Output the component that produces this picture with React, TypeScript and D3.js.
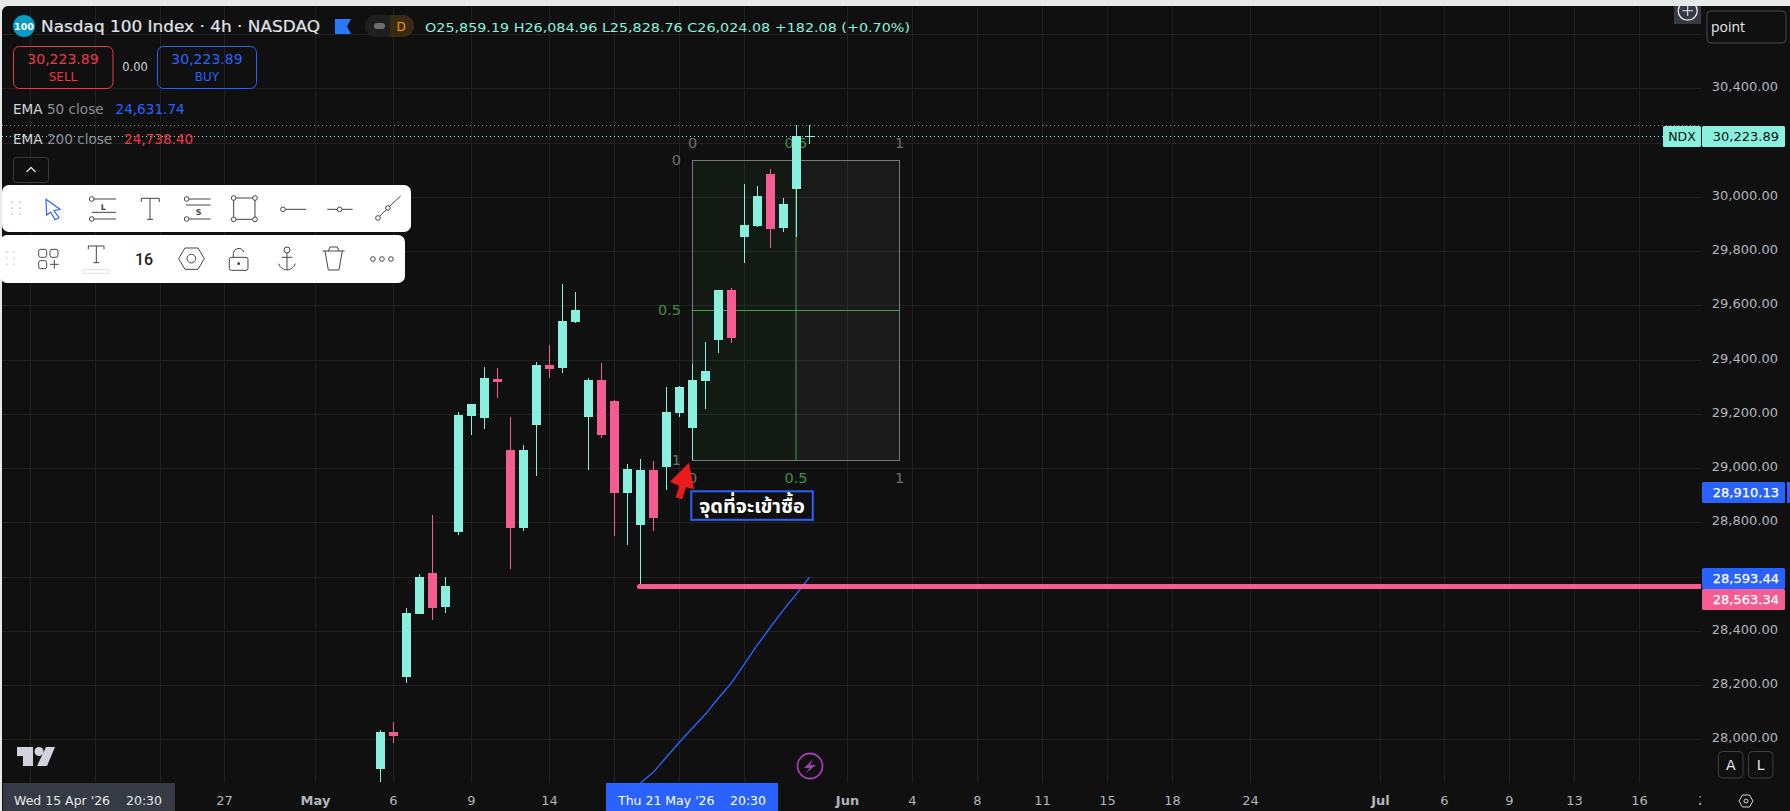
import React from "react";
import * as d3 from "d3";

const opens = [27890,28027,28230,28462,28613,28488,28764,29192,29185,29328,29067,28779,29159,29380,29369,29538,29188,29325,29247,28908,28790,28993,29004,29203,29148,29321,29472,29656,29852,29892,30084,29885,30029,30224];
const highs = [28034,28064,28483,28609,28827,28598,29207,29236,29373,29369,29188,29085,29391,29454,29679,29649,29332,29387,29251,29015,29033,29026,29299,29302,29384,29465,29656,29664,30047,30040,30102,29996,30265,30265];
const lows = [27843,27986,28208,28462,28440,28466,28753,29122,29144,29258,28628,28768,28971,29332,29350,29535,28993,29111,28749,28716,28569,28768,28919,29188,29030,29218,29424,29461,29756,29889,29811,29870,29852,30195];
const closes = [28027,28012,28466,28598,28484,28565,29196,29236,29332,29317,28779,29067,29380,29365,29542,29583,29325,29122,28908,28996,28993,28816,29207,29299,29325,29358,29656,29479,29896,30003,29881,29973,30224,30224];

const emaStartBar = 20;
const emaValues = [27839,27879,27935,27990,28042,28093,28152,28208,28278,28348,28414,28477,28536,28598];

const priceTicks = [30400,30200,30000,29800,29600,29400,29200,29000,28800,28600,28400,28200,28000];
const coveredPriceLabels = [30200];
const gridOnlyPrices = [30600];
const timeLabels: [number, string, boolean][] = [
  [30,"",false],[95,"",false],[160,"",false],[224,"27",false],[315,"May",true],[393,"6",false],[471,"9",false],[549,"14",false],[614,"",false],[679,"",false],[744,"",false],[847,"Jun",true],[912,"4",false],[977,"8",false],[1042,"11",false],[1107,"15",false],[1172,"18",false],[1250,"24",false],[1380,"Jul",true],[1444,"6",false],[1509,"9",false],[1574,"13",false],[1639,"16",false],[1702,"2",false],
];

const lastPrice = 30223.89;
const dottedHigh = 30265;
const supportPrice = 28563.34;
const fibLevels = [0, 0.5, 1];

const BG = "#101010";
const UP = "#89f0de";
const DOWN = "#f55c92";
const BLUE = "#2962ff";
const GRID = "#212121";
const AXIS = "#b2b5be";
const FONT = "'DejaVu Sans', sans-serif";

const W = 1790, H = 811, PLOT_R = 1701, AXIS_Y = 783;

const y = d3.scaleLinear().domain([28000, 30400]).range([739.3, 88.3]);
const x = d3.scaleLinear().domain([0, 33]).range([380.5, 809.5]);
const fibX = d3.scaleLinear().domain([0, 1]).range([692.5, 899.5]);
const fibY = d3.scaleLinear().domain([0, 1]).range([160.5, 460.5]);
const fmt = d3.format(",.2f");

const line = d3.line<number>().x((_, i) => x(i + emaStartBar)).y((d) => y(d));

function Candles() {
  return (
    <g>
      {opens.map((o, i) => {
        const c = closes[i];
        const col = c >= o ? UP : DOWN;
        const top = Math.round(y(Math.max(o, c)));
        const bot = Math.round(y(Math.min(o, c)));
        const doji = bot === top;
        return (
          <g key={i} fill={col}>
            <rect x={x(i) - 0.5} y={Math.round(y(highs[i]))} width={1} height={Math.round(y(lows[i])) - Math.round(y(highs[i]))} />
            {doji ? (
              <rect x={x(i) - 4.5} y={top} width={10} height={1} />
            ) : (
              <rect x={x(i) - 4.5} y={top} width={9} height={bot - top} />
            )}
          </g>
        );
      })}
    </g>
  );
}

function Tag({ y0, h, fill, text, color = "#fff", x0 = 1702, w = 83 }: any) {
  return (
    <g>
      <rect x={x0} y={y0} width={w} height={h} rx={1.5} fill={fill} />
      <text x={1779} y={y0 + h / 2 + 4.5} textAnchor="end" fontSize={13} fill={color} fontFamily={FONT} stroke={color === "#fff" ? "#fff" : "none"} strokeWidth={color === "#fff" ? 0.25 : 0}>{text}</text>
    </g>
  );
}

function Toolbars() {
  const st = { fill: "none", stroke: "#444", strokeWidth: 3 } as const;
  const gripA = [36, 60], gripAy = [97, 115, 133];
  const gripB = [20, 42], gripBy = [247, 265, 283];
  return (
    <g>
      <rect x={2} y={185} width={409} height={47} rx={7} fill="#fff" />
      <rect x={0} y={235} width={405} height={48} rx={7} fill="#fff" />
      <g transform="translate(0,170) scale(0.3333)">
        {gripA.map((a) => gripAy.map((b) => <circle key={a + "-" + b} cx={a} cy={b} r={3} fill="#ccc" />))}
        {gripB.map((a) => gripBy.map((b) => <circle key={a + "-" + b} cx={a} cy={b} r={3} fill="#d5d5d5" />))}
        <path d="M138,88 L180,118 L162,122 L177,143 L165,149 L152,126 L140,135 Z" fill="none" stroke={BLUE} strokeWidth={3.5} />
        <g {...st}>
          <circle cx={275} cy={87} r={7} /><path d="M282,87H348M275,127H348M282,147H348" /><circle cx={275} cy={147} r={7} />
          <path d="M424,96V85H478V96M450,85V148M441,148H459" />
          <circle cx={560} cy={87} r={7} /><path d="M567,87H632M558,105H632M567,147H632" /><circle cx={560} cy={147} r={7} />
          <rect x={701} y={84} width={64} height={64} />
          {[[701,84],[765,84],[701,148],[765,148]].map(([a,b]) => <circle key={a+"_"+b} cx={a} cy={b} r={7} fill="#fff" />)}
          <circle cx={849} cy={118} r={7} /><path d="M856,118H919" />
          <path d="M982,118H1012M1026,118H1058" /><circle cx={1019} cy={118} r={7} />
          <circle cx={1134} cy={144} r={7} /><circle cx={1164} cy={114} r={7} /><path d="M1139,139L1159,119M1169,109L1202,78" />
          <rect x={116} y={238} width={24} height={24} rx={6} /><rect x={150} y={238} width={24} height={24} rx={6} /><rect x={116} y={272} width={24} height={24} rx={6} /><path d="M150,283H176M163,270V296" />
          <path d="M265,238V228H312V238M289,228V278M280,278H298" />
          <rect x={248} y={299} width={80} height={11} rx={4} stroke="#ccc" strokeWidth={2} />
          <path d="M555,234H594L613,266L594,298H555L536,266Z" /><circle cx={574} cy={266} r={13} />
          <rect x={688} y={262} width={56} height={39} rx={6} /><path d="M700,262V250A16,16 0 0 1 731,246" />
          <circle cx={861} cy={240} r={9} /><path d="M861,249V300M845,262H877M836,281C840,293 852,300 861,300C870,300 882,293 886,281" />
          <path d="M968,243H1034M985,243L990,231H1012L1017,243M975,243L985,300H1017L1027,243" />
          <circle cx={1119} cy={267} r={7} /><circle cx={1146} cy={267} r={7} /><circle cx={1173} cy={267} r={7} />
        </g>
        <circle cx={716} cy={281} r={4} fill="#333" />
        <text x={310} y={120} fontSize={24} fontWeight={700} textAnchor="middle" fill="#444" fontFamily={FONT}>L</text>
        <text x={596} y={136} fontSize={24} fontWeight={700} textAnchor="middle" fill="#444" fontFamily={FONT}>S</text>
        <text x={432} y={285} fontSize={48} textAnchor="middle" fill="#222" fontFamily="Roboto, sans-serif" fontWeight={500}>16</text>
      </g>
    </g>
  );
}

export default function App() {
  const clipId = "plotclip";
  const headerY = 32;
  return (
    <>
      <style>{`html,body{margin:0;padding:0;overflow:hidden;background:#e9e9e9}`}</style>
      <svg width={W} height={H} style={{ position: "absolute", left: 0, top: 0, display: "block" }} fontFamily={FONT}>
        <defs>
          <clipPath id={clipId}><rect x={0} y={0} width={PLOT_R} height={AXIS_Y} /></clipPath>
          <clipPath id="timeclip"><rect x={0} y={AXIS_Y} width={PLOT_R} height={H - AXIS_Y} /></clipPath>
        </defs>
        <rect width={W} height={H} fill="#e9e9e9" />
        <rect x={2} y={6} width={W} height={H} rx={6} fill={BG} />

        {/* grid */}
        <g stroke={GRID}>
          {[...gridOnlyPrices, ...priceTicks].map((p) => (
            <line key={p} x1={2} x2={PLOT_R} y1={Math.round(y(p)) + 0.5} y2={Math.round(y(p)) + 0.5} />
          ))}
          {timeLabels.filter(([px]) => px < PLOT_R).map(([px]) => <line key={px} x1={px + 0.5} x2={px + 0.5} y1={6} y2={AXIS_Y} />)}
        </g>

        {/* fib box */}
        <g>
          <rect x={fibX(0)} y={fibY(0)} width={fibX(0.5) - fibX(0)} height={fibY(1) - fibY(0)} fill="#4caf50" fillOpacity={0.07} />
          <rect x={fibX(0.5)} y={fibY(0)} width={fibX(1) - fibX(0.5)} height={fibY(1) - fibY(0)} fill="#ffffff" fillOpacity={0.045} />
          <rect x={fibX(0)} y={fibY(0)} width={fibX(1) - fibX(0)} height={fibY(1) - fibY(0)} fill="none" stroke="#787878" />
          <line x1={fibX(0.5)} x2={fibX(0.5)} y1={fibY(0)} y2={fibY(1)} stroke="#43a047" />
          <line x1={fibX(0) - 1} x2={fibX(1)} y1={fibY(0.5)} y2={fibY(0.5)} stroke="#43a047" />
          {fibLevels.map((l) => {
            const col = l === 0.5 ? "#3f9142" : "#6e6e6e";
            return (
              <g key={l} fontSize={14.5} fill={col}>
                <text x={fibX(l)} y={148} textAnchor="middle">{l}</text>
                <text x={fibX(l)} y={483} textAnchor="middle">{l}</text>
                <text x={681} y={fibY(l) + 4} textAnchor="end">{l}</text>
              </g>
            );
          })}
        </g>

        {/* dotted price lines */}
        <line x1={2} x2={PLOT_R} y1={Math.round(y(dottedHigh)) + 0.5} y2={Math.round(y(dottedHigh)) + 0.5} stroke="#8f8f8f" strokeDasharray="1 3" />
        <line x1={2} x2={1663} y1={Math.round(y(lastPrice)) + 0.5} y2={Math.round(y(lastPrice)) + 0.5} stroke={UP} strokeDasharray="1 3" />

        <Candles />

        <g clipPath={`url(#${clipId})`}>
          <path d={line(emaValues) || ""} fill="none" stroke={BLUE} strokeWidth={1.4} />
        </g>

        {/* support line */}
        <line x1={x(20) - 1} x2={PLOT_R} y1={y(supportPrice)} y2={y(supportPrice)} stroke={DOWN} strokeWidth={5} />
        <circle cx={x(20) - 1} cy={y(supportPrice)} r={2.5} fill={DOWN} />

        {/* arrow + annotation */}
        <path d="M689,462.7 L670,481.7 L679.3,486 L675.7,497.3 L682.3,499.3 L686,487.3 L694,489.3 Z" fill="#e81c1c" />
        <rect x={691.3} y={491.3} width={121.5} height={28.5} fill={BG} stroke={BLUE} strokeWidth={2} />
        <text x={752} y={513} textAnchor="middle" fontSize={20} fontWeight={700} fill="#fff" fontFamily="'Noto Sans Thai','Noto Sans','DejaVu Sans',sans-serif">จุดที่จะเข้าซื้อ</text>

        {/* header */}
        <circle cx={24} cy={26} r={11} fill="#089bc4" />
        <text x={24} y={29.5} textAnchor="middle" fontSize={9.5} fontWeight={700} fill="#fff">100</text>
        <text x={41} y={headerY} fontSize={15.5} fill="#e0e3ea" stroke="#e0e3ea" strokeWidth={0.2} textLength={279} lengthAdjust="spacingAndGlyphs">Nasdaq 100 Index · 4h · NASDAQ</text>
        <path d="M335,19H351L347,26.5L351,34H335Z" fill="#2979ff" />
        <rect x={365} y={15} width={49} height={22} rx={11} fill="#1f1f1f" />
        <path d="M390,15H403A11,11 0 0 1 403,37H390Z" fill="#3a2a12" />
        <rect x={374} y={23} width={11} height={6} rx={3} fill="#6e6e6e" />
        <text x={401} y={31} textAnchor="middle" fontSize={12} fill="#ff9800">D</text>
        <text x={425} y={31.5} fontSize={12.5} fill={UP} textLength={485} lengthAdjust="spacingAndGlyphs">O25,859.19  H26,084.96  L25,828.76  C26,024.08  +182.08 (+0.70%)</text>

        {/* order boxes */}
        <rect x={13.5} y={46.5} width={99.5} height={42} rx={6} fill="none" stroke="#f23645" />
        <text x={63} y={64} textAnchor="middle" fontSize={14} fill="#f23645">30,223.89</text>
        <text x={63} y={81} textAnchor="middle" fontSize={12} fill="#f23645">SELL</text>
        <text x={135} y={71} textAnchor="middle" fontSize={11.5} fill="#d1d4dc">0.00</text>
        <rect x={157.5} y={46.5} width={99} height={42} rx={6} fill="none" stroke={BLUE} />
        <text x={207} y={64} textAnchor="middle" fontSize={14} fill={BLUE}>30,223.89</text>
        <text x={207} y={81} textAnchor="middle" fontSize={12} fill={BLUE}>BUY</text>

        {/* EMA legend */}
        <text x={13} y={113.5} fontSize={13.6} fill="#d1d4dc">EMA <tspan fill="#8a8e97">50 close</tspan></text>
        <text x={115.5} y={113.5} fontSize={13.6} fill={BLUE}>{fmt(24631.74)}</text>
        <text x={13} y={143.5} fontSize={13.6} fill="#d1d4dc">EMA <tspan fill="#8a8e97">200 close</tspan></text>
        <text x={124} y={143.5} fontSize={13.6} fill="#f23645">{fmt(24738.40)}</text>
        <rect x={13.5} y={157.5} width={35} height={25} rx={3} fill={BG} stroke="#3a3a3a" />
        <path d="M26.5,172L31,167.5L35.5,172" fill="none" stroke="#e0e0e0" strokeWidth={1.3} />

        <Toolbars />

        {/* TV logo */}
        <path d="M17,747H33V766H23V756H17ZM46,747H55L47,766H37Z" fill="#d1d4dc" />
        <circle cx={39} cy={751.5} r={4.5} fill="#d1d4dc" />

        {/* bolt */}
        <circle cx={810} cy={766} r={12.5} fill="none" stroke="#9c3fb0" strokeWidth={1.8} />
        <path d="M813,759L804,768H809.5L806,773L816,765H810Z" fill="#9c3fb0" />

        {/* right axis */}
        <rect x={PLOT_R} y={6} width={W - PLOT_R} height={H} fill={BG} />
        {priceTicks.filter((p) => !coveredPriceLabels.includes(p)).map((p) => (
          <text key={p} x={1778} y={y(p) + 3} textAnchor="end" fontSize={13} fill={AXIS}>{fmt(p)}</text>
        ))}
        <rect x={1674} y={6} width={27} height={18} fill="#363a45" />
        <circle cx={1687.7} cy={10.7} r={9.5} fill="none" stroke="#e8e8e8" strokeWidth={1.3} />
        <path d="M1682.5,10.7H1693M1687.7,5.5V16" stroke="#e8e8e8" strokeWidth={1.1} />
        <rect x={1707} y={11} width={79} height={32} rx={4} fill={BG} stroke="#4a4a4a" />
        <text x={1711} y={32} fontSize={14} fill="#e8e8f0" fontFamily="'Open Sans',sans-serif">point</text>

        <rect x={1663} y={126} width={38} height={21} rx={1.5} fill={UP} />
        <text x={1682} y={141} textAnchor="middle" fontSize={12.5} fill="#101010">NDX</text>
        <Tag y0={126} h={21} fill={UP} text={fmt(lastPrice)} color="#101010" />
        <Tag y0={482} h={21} fill={BLUE} text={fmt(28910.13)} />
        <rect x={1787} y={482} width={3} height={21} fill={BLUE} />
        <Tag y0={568} h={21} fill={BLUE} text={fmt(28593.44)} />
        <Tag y0={589} h={21} fill={DOWN} text={fmt(supportPrice)} />

        <g fill="none" stroke="#3f3f3f">
          <rect x={1718.5} y={751.5} width={24.5} height={26.5} rx={4} />
          <rect x={1748.5} y={751.5} width={24.5} height={26.5} rx={4} />
        </g>
        <text x={1730.7} y={770} textAnchor="middle" fontSize={14} fill="#e0e6f0">A</text>
        <text x={1760.7} y={770} textAnchor="middle" fontSize={14} fill="#e0e6f0">L</text>

        {/* time axis */}
        <rect x={2} y={AXIS_Y} width={PLOT_R - 2} height={H - AXIS_Y} fill={BG} />
        <g clipPath="url(#timeclip)">
          {timeLabels.filter((t) => t[1]).map(([px, label, bold]) => (
            <text key={px} x={px + 0.5} y={805} textAnchor="middle" fontSize={13} fontWeight={bold ? 700 : 400} fill={AXIS}>{label}</text>
          ))}
        </g>
        <rect x={3} y={AXIS_Y} width={172} height={H - AXIS_Y} fill="#363a45" />
        <text x={14} y={805} fontSize={12.5} fill="#e8e8e8">Wed 15 Apr '26</text>
        <text x={126} y={805} fontSize={12.5} fill="#e8e8e8">20:30</text>
        <rect x={606} y={AXIS_Y} width={172} height={H - AXIS_Y} fill={BLUE} />
        <text x={618} y={805} fontSize={12.5} fill="#fff">Thu 21 May '26</text>
        <text x={730} y={805} fontSize={12.5} fill="#fff">20:30</text>
        <path d="M1739,801L1742.5,795H1749.5L1753,801L1749.5,807H1742.5Z" fill="none" stroke="#d8d8d8" />
        <circle cx={1746} cy={801} r={2} fill="none" stroke="#d8d8d8" />
      </svg>
    </>
  );
}
